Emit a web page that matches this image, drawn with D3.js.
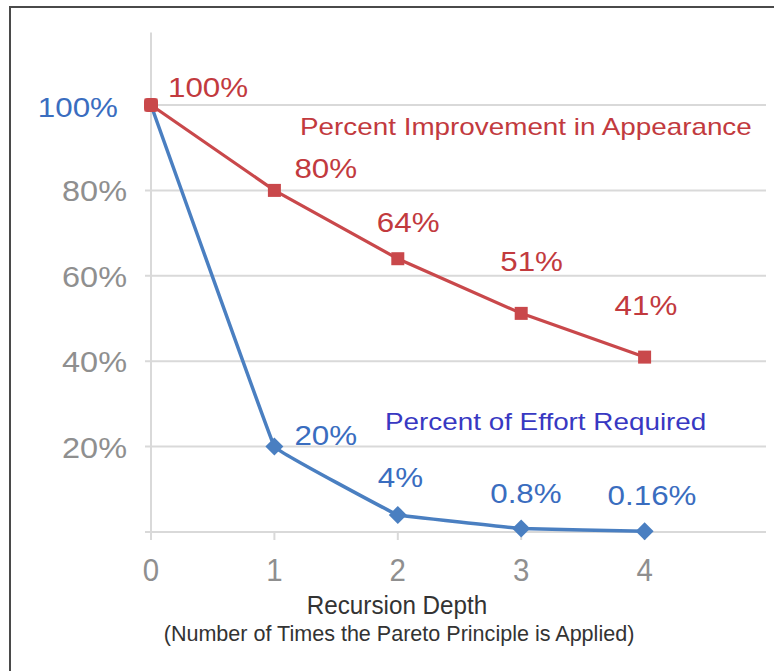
<!DOCTYPE html>
<html>
<head>
<meta charset="utf-8">
<script src="https://d3js.org/d3.v7.min.js"></script>
<style>
  body { margin: 0; background: #fff; }
  svg { display: block; font-family: 'Liberation Sans', Arial, sans-serif; }
</style>
</head>
<body>
<svg width="774" height="671"></svg>
<script>
// data
const depths = [0, 1, 2, 3, 4];
const appearance = [100, 80, 64, 51.2, 40.96];
const effort = [100, 20, 4, 0.8, 0.16];
const appearanceLabels = ['100%', '80%', '64%', '51%', '41%'];
const effortLabels = ['100%', '20%', '4%', '0.8%', '0.16%'];
const yTicks = [20, 40, 60, 80];

const svg = d3.select('svg');

const x = d3.scaleLinear().domain([0, 5]).range([151, 768]);
const y = d3.scaleLinear().domain([0, 100]).range([532, 105]);

const red = '#c9484b';
const redText = '#c23a3e';
const blue = '#4a7fc1';
const blueText = '#3a6dbf';

// frame (only top and left edge show in the picture)
svg.append('path')
  .attr('d', 'M10,671V7H774')
  .attr('fill', 'none')
  .attr('stroke', '#4a4a4a')
  .attr('stroke-width', 2);

// horizontal gridlines
svg.append('g')
  .selectAll('line')
  .data([0, ...yTicks, 100])
  .enter()
  .append('line')
  .attr('x1', 145)
  .attr('x2', 766)
  .attr('y1', d => y(d))
  .attr('y2', d => y(d))
  .attr('stroke', '#d9d9d9')
  .attr('stroke-width', 2);

// vertical axis line + x ticks
svg.append('line')
  .attr('x1', x(0)).attr('x2', x(0))
  .attr('y1', y(117)).attr('y2', y(0) + 8)
  .attr('stroke', '#d9d9d9')
  .attr('stroke-width', 2);

svg.append('g')
  .selectAll('line')
  .data(depths.slice(1))
  .enter()
  .append('line')
  .attr('x1', d => x(d)).attr('x2', d => x(d))
  .attr('y1', y(0)).attr('y2', y(0) + 8)
  .attr('stroke', '#d9d9d9')
  .attr('stroke-width', 2);

// helper: horizontally stretched text, like the source image
const label = (g, txt, px, py, size, sx, color, anchor) => g.append('text')
  .attr('transform', `translate(${px},${py}) scale(${sx},1)`)
  .attr('text-anchor', anchor || 'start')
  .attr('font-size', size)
  .attr('fill', color)
  .text(txt);

// y tick labels
const yAxis = svg.append('g');
yTicks.forEach((t) => {
  label(yAxis, `${t}%`, 127, y(t) + 11, 29, 1.12, '#8f8f8f', 'end');
});

// x tick labels
const xAxis = svg.append('g');
depths.forEach((d) => {
  label(xAxis, d, x(d), 581, 31, 0.95, '#8f8f8f', 'middle');
});

// axis title
label(svg, 'Recursion Depth', 397, 614, 25, 0.97, '#333', 'middle');
label(svg, '(Number of Times the Pareto Principle is Applied)', 399, 641, 22, 0.98, '#333', 'middle');

// lines
const lineRed = d3.line().x((d, i) => x(depths[i])).y(d => y(d));
const lineBlue = d3.line().x((d, i) => x(depths[i])).y(d => y(d))
  .curve(d3.curveCardinal.tension(0.92));

svg.append('path')
  .attr('d', lineRed(appearance))
  .attr('fill', 'none')
  .attr('stroke', red)
  .attr('stroke-width', 3.2);

svg.append('path')
  .attr('d', lineBlue(effort))
  .attr('fill', 'none')
  .attr('stroke', blue)
  .attr('stroke-width', 3.5);

// markers
svg.append('g')
  .selectAll('rect')
  .data(appearance)
  .enter()
  .append('rect')
  .attr('x', (d, i) => x(depths[i]) - 6.5)
  .attr('y', d => y(d) - 6.5)
  .attr('width', 13)
  .attr('height', 13)
  .attr('fill', red);

svg.append('g')
  .selectAll('path')
  .data(effort.slice(1))
  .enter()
  .append('path')
  .attr('transform', (d, i) => `translate(${x(depths[i + 1])},${y(d)})`)
  .attr('d', 'M0,-9L9,0L0,9L-9,0Z')
  .attr('fill', blue);

// red dot sits on top of the shared start point
svg.append('rect')
  .attr('x', x(0) - 7).attr('y', y(100) - 7)
  .attr('width', 14).attr('height', 14)
  .attr('rx', 4)
  .attr('fill', red);

// data labels, offsets from each point
const redOff = [[17, -8], [20, -12], [-21, -27], [-21, -42], [-30, -42]];
const blueOff = [[-33, 12, 'end'], [20, -2], [-20, -28], [-31, -26], [-37, -26]];

const labels = svg.append('g');
appearanceLabels.forEach((t, i) => {
  label(labels, t, x(depths[i]) + redOff[i][0], y(appearance[i]) + redOff[i][1], 28, 1.12, redText);
});
effortLabels.forEach((t, i) => {
  label(labels, t, x(depths[i]) + blueOff[i][0], y(effort[i]) + blueOff[i][1], 28, 1.12, blueText, blueOff[i][2]);
});

// series names
label(svg, 'Percent Improvement in Appearance', 300, 135, 24, 1.16, redText);
label(svg, 'Percent of Effort Required', 385, 430, 24, 1.16, '#3838c2');
</script>
</body>
</html>
